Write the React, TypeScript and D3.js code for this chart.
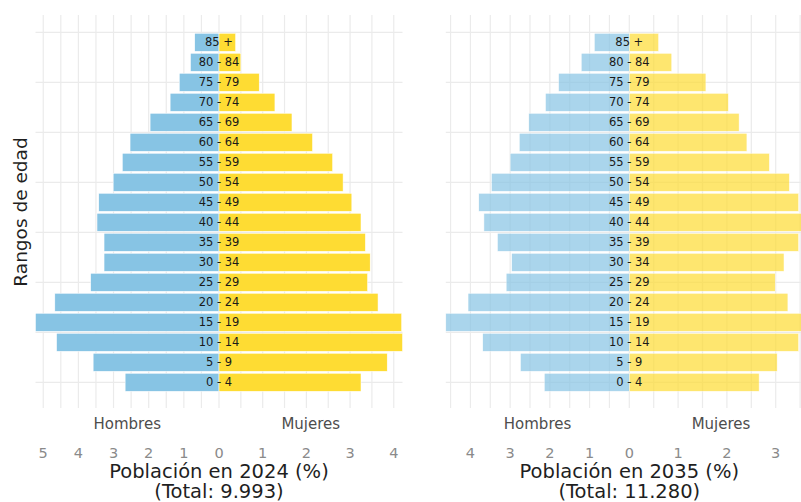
import * as d3 from 'd3';

// Age groups, bottom to top
const ages = ['0 - 4', '5 - 9', '10 - 14', '15 - 19', '20 - 24', '25 - 29', '30 - 34', '35 - 39', '40 - 44',
  '45 - 49', '50 - 54', '55 - 59', '60 - 64', '65 - 69', '70 - 74', '75 - 79', '80 - 84', '85 +'];

// Share of population (%) by age group
const men2024 = [2.67, 3.58, 4.62, 5.22, 4.67, 3.65, 3.27, 3.27, 3.47, 3.42, 3.01, 2.75, 2.53, 1.96, 1.39, 1.13, 0.81, 0.69];
const women2024 = [3.25, 3.85, 4.2, 4.18, 3.64, 3.4, 3.46, 3.35, 3.25, 3.04, 2.84, 2.6, 2.14, 1.67, 1.28, 0.92, 0.5, 0.38];
const men2035 = [2.14, 2.74, 3.69, 4.62, 4.06, 3.1, 2.96, 3.32, 3.66, 3.79, 3.47, 3.0, 2.77, 2.53, 2.11, 1.78, 1.21, 0.88];
const women2035 = [2.66, 3.03, 3.47, 3.76, 3.25, 2.99, 3.17, 3.47, 3.58, 3.47, 3.28, 2.87, 2.41, 2.25, 2.03, 1.57, 0.87, 0.6];

const panels = [
  { year: '2024', total: '9.993', men: men2024, women: women2024, cx: 219, opacity: 1 },
  { year: '2035', total: '11.280', men: men2035, women: women2035, cx: 629.3, opacity: 0.7 },
];

const W = 801;
const H = 502;
const HALF = 183.5;
const FONT = '"DejaVu Sans", Verdana, sans-serif';
const BLUE = '#87c4e4';
const YELLOW = '#fedc33';
const GRID = '#ebebeb';

// continuous index scale for the age groups
const y = d3.scaleLinear().domain([0, ages.length - 1]).range([382.3, 42.3]);
const barH = (y(0) - y(1)) * 0.9;
const hGrid = d3.range(0, ages.length + 0.1, 2.5).filter(v => y(v) > 15);

function Panel({ p }: { p: (typeof panels)[number] }) {
  const xm = d3.scaleLinear().domain([0, d3.max(p.men) || 1]).range([p.cx, p.cx - HALF]);
  const xw = d3.scaleLinear().domain([0, d3.max(p.women) || 1]).range([p.cx, p.cx + HALF]);
  const left = p.cx - HALF;
  const right = p.cx + HALF;
  const mGrid = d3.range(0, (d3.max(p.men) || 0) + 0.001, 0.5);
  const wGrid = d3.range(0.5, (d3.max(p.women) || 0) + 0.001, 0.5);
  const mTicks = d3.range(0, Math.floor(d3.max(p.men) || 0) + 1);
  const wTicks = d3.range(1, Math.floor(d3.max(p.women) || 0) + 1);

  return (
    <g>
      {/* grid */}
      {hGrid.map(v => (
        <line key={'h' + v} x1={left} x2={right} y1={y(v)} y2={y(v)} stroke={GRID} strokeWidth={1.2} />
      ))}
      {mGrid.map(v => (
        <line key={'m' + v} x1={xm(v)} x2={xm(v)} y1={15} y2={408} stroke={GRID} strokeWidth={1.2} />
      ))}
      {wGrid.map(v => (
        <line key={'w' + v} x1={xw(v)} x2={xw(v)} y1={15} y2={408} stroke={GRID} strokeWidth={1.2} />
      ))}

      {/* bars */}
      {ages.map((a, i) => (
        <g key={a} opacity={p.opacity}>
          <rect x={xm(p.men[i])} y={y(i) - barH / 2} width={p.cx - xm(p.men[i])} height={barH}
            fill={BLUE} stroke="#ffffff" strokeWidth={0.5} />
          <rect x={p.cx} y={y(i) - barH / 2} width={xw(p.women[i]) - p.cx} height={barH}
            fill={YELLOW} stroke="#ffffff" strokeWidth={0.5} />
        </g>
      ))}

      {/* age labels */}
      {ages.map((a, i) => (
        <text key={'l' + a} x={p.cx} y={y(i)} dy="0.36em" textAnchor="middle" fontSize={11.5}
          fontFamily={FONT} fill="#1a1a1a">{a}</text>
      ))}

      {/* strip labels */}
      <text x={p.cx - HALF / 2} y={429} textAnchor="middle" fontSize={15} fontFamily={FONT} fill="#4d4d4d">Hombres</text>
      <text x={p.cx + HALF / 2} y={429} textAnchor="middle" fontSize={15} fontFamily={FONT} fill="#4d4d4d">Mujeres</text>

      {/* tick labels */}
      {mTicks.map(t => (
        <text key={'tm' + t} x={xm(t)} y={457.5} textAnchor="middle" fontSize={14.5} fontFamily={FONT} fill="#8a8a8a">{t}</text>
      ))}
      {wTicks.map(t => (
        <text key={'tw' + t} x={xw(t)} y={457.5} textAnchor="middle" fontSize={14.5} fontFamily={FONT} fill="#8a8a8a">{t}</text>
      ))}

      {/* axis title */}
      <text x={p.cx} y={477.5} textAnchor="middle" fontSize={19.5} fontFamily={FONT} fill="#1f1f1f">
        {`Población en ${p.year} (%)`}
      </text>
      <text x={p.cx} y={497.5} textAnchor="middle" fontSize={19.5} fontFamily={FONT} fill="#1f1f1f">
        {`(Total: ${p.total})`}
      </text>
    </g>
  );
}

export default function App() {
  return (
    <svg width={W} height={H} style={{ position: 'absolute', left: 0, top: 0, background: '#ffffff' }}>
      <rect width={W} height={H} fill="#ffffff" />
      {panels.map(p => (
        <Panel key={p.year} p={p} />
      ))}
      <text transform={`translate(26.5,212) rotate(-90)`} textAnchor="middle" fontSize={18.5}
        fontFamily={FONT} fill="#1f1f1f">Rangos de edad</text>
    </svg>
  );
}
